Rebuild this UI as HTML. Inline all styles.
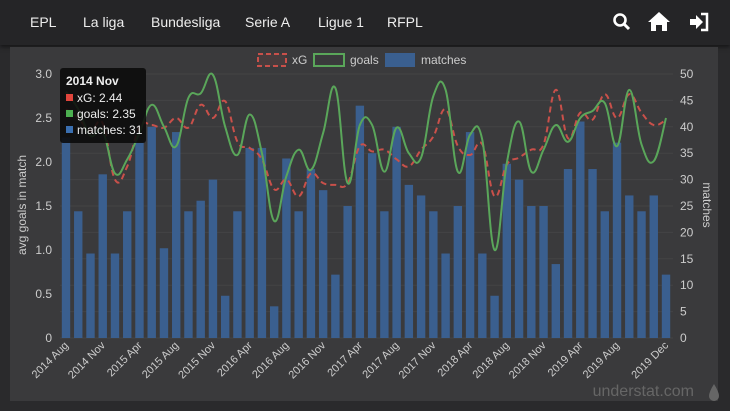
<!DOCTYPE html>
<html><head><meta charset="utf-8"><style>
html,body{margin:0;padding:0;width:730px;height:411px;overflow:hidden;background:#2a2a2c;font-family:"Liberation Sans",sans-serif}
#nav{position:absolute;left:0;top:0;width:730px;height:45px;background:#252527;box-shadow:0 2px 4px rgba(0,0,0,.5)}
.nl{position:absolute;top:14px;color:#eee;font-size:14px}
#panel{position:absolute;left:10px;top:47px;width:708px;height:354px;background:#3a3a3c}
svg{position:absolute;left:0;top:0}
</style></head><body>
<div id="nav">
<span class="nl" style="left:30px">EPL</span>
<span class="nl" style="left:83px">La liga</span>
<span class="nl" style="left:151px">Bundesliga</span>
<span class="nl" style="left:245px">Serie A</span>
<span class="nl" style="left:318px">Ligue 1</span>
<span class="nl" style="left:387px">RFPL</span>
<svg style="left:612px;top:12px" width="20" height="20"><circle cx="8" cy="8" r="5.5" stroke="#fff" stroke-width="2.6" fill="none"/><line x1="12" y1="12" x2="17" y2="17" stroke="#fff" stroke-width="3"/></svg>
<svg style="left:647px;top:10px" width="24" height="22"><path d="M12 2 L23 12 L20 12 L20 21 L15 21 L15 15 L9 15 L9 21 L4 21 L4 12 L1 12 Z" fill="#fff"/></svg>
<svg style="left:688px;top:12px" width="22" height="20"><path d="M2 7 H8 V3 L15 10 L8 17 V13 H2 Z" fill="#fff"/><path d="M13 2 H19 V18 H13" stroke="#fff" stroke-width="2.5" fill="none"/></svg>
</div>
<div id="panel"></div>
<svg id="chart" width="730" height="411"></svg>
<script>
const categories=["2014 Aug","2014 Sep","2014 Oct","2014 Nov","2014 Dec","2015 Jan","2015 Apr","2015 May","2015 Jul","2015 Aug","2015 Sep","2015 Oct","2015 Nov","2015 Dec","2016 Mar","2016 Apr","2016 May","2016 Aug","2016 Sep","2016 Oct","2016 Nov","2016 Dec","2017 Mar","2017 Apr","2017 May","2017 Jun","2017 Aug","2017 Sep","2017 Oct","2017 Nov","2017 Dec","2018 Mar","2018 Apr","2018 May","2018 Jul","2018 Aug","2018 Sep","2018 Oct","2018 Nov","2018 Dec","2019 Mar","2019 Apr","2019 May","2019 Jul","2019 Aug","2019 Aug ","2019 Sep","2019 Oct","2019 Nov","2019 Dec"];
const tickIdx=[0,3,6,9,12,15,18,21,24,27,30,33,36,39,42,45,49];
const tickLabels=["2014 Aug","2014 Nov","2015 Apr","2015 Aug","2015 Nov","2016 Apr","2016 Aug","2016 Nov","2017 Apr","2017 Aug","2017 Nov","2018 Apr","2018 Aug","2018 Nov","2019 Apr","2019 Aug","2019 Dec"];
const matches=[38,24,16,31,16,24,37,40,17,39,24,26,30,8,24,36,36,6,34,24,32,28,12,25,44,35,24,40,29,27,24,16,25,39,16,8,33,30,25,25,14,32,41,32,24,37,27,24,27,12];
const xG=[2.6,2.5,2.35,2.44,1.8,1.95,2.4,2.42,2.39,2.5,2.39,2.65,2.5,2.69,2.23,2.16,2.03,1.69,1.8,1.61,1.87,1.76,1.74,1.76,2.18,2.12,2.14,2.03,1.95,2.14,2.29,2.6,2.18,2.08,2.2,1.61,1.97,2.05,2.14,2.2,2.82,2.27,2.56,2.48,2.77,2.5,2.77,2.56,2.42,2.48];
const goals=[2.8,2.6,2.3,2.35,1.87,2.03,2.33,2.65,2.4,2.18,2.73,2.78,2.99,2.4,2.08,2.54,2.1,1.33,1.84,2.14,1.91,2.33,2.84,1.76,2.42,2.42,1.89,2.39,2.1,2.05,2.75,2.82,1.89,2.31,2.25,1.0,1.99,2.46,1.89,2.14,2.42,2.23,2.5,2.58,2.67,2.18,2.82,2.2,2.01,2.5];
const leftTicks=[0,0.5,1,1.5,2,2.5,3];
const rightTicks=[0,5,10,15,20,25,30,35,40,45,50];

const NS="http://www.w3.org/2000/svg";
const svg=document.getElementById('chart');
const X0=66,DX=12.245,Y0=338,YT=74;
const xs=i=>X0+i*DX;
const yL=v=>Y0-(v/3)*(Y0-YT);
const yR=v=>Y0-(v/50)*(Y0-YT);
function mk(t,a,p){const e=document.createElementNS(NS,t);for(const k in a)e.setAttribute(k,a[k]);(p||svg).appendChild(e);return e;}

rightTicks.forEach((v,i)=>{
 const g=mk('line',{x1:60,x2:673,y1:yR(v),y2:yR(v),stroke:'rgba(255,255,255,0.05)'});
 
 
 const t=mk('text',{x:680,y:yR(v)+4,fill:'#ccc','font-size':12});
 t.textContent=v;
 
 
});
leftTicks.forEach(v=>{
 const t=mk('text',{x:52,y:yL(v)+4,fill:'#ccc','font-size':12,'text-anchor':'end'});
 t.textContent=v===0?'0':v.toFixed(1);
 
 
});
matches.forEach((m,i)=>{
 const r=mk('rect',{x:xs(i)-4.2,y:yR(m),width:8.4,height:Y0-yR(m),fill:'#3a5f8f'});
 
 
});
function smooth(vals){
 const p=vals.map((v,i)=>[xs(i),yL(v)]);
 let d='M'+p[0][0]+','+p[0][1];
 for(let i=0;i<p.length-1;i++){
  const a=p[i-1]||p[i],b=p[i],c=p[i+1],e=p[i+2]||c,k=0.2;
  d+=' C'+(b[0]+(c[0]-a[0])*k)+','+(b[1]+(c[1]-a[1])*k)+' '+(c[0]-(e[0]-b[0])*k)+','+(c[1]-(e[1]-b[1])*k)+' '+c[0]+','+c[1];
 }
 return d;
}
const lx=mk('path',{d:smooth(xG),fill:'none',stroke:'#c9504a','stroke-width':2,'stroke-dasharray':'6,4'});


const lg=mk('path',{d:smooth(goals),fill:'none',stroke:'#5aa65a','stroke-width':2});



tickIdx.forEach((ix,j)=>{
 const x=xs(ix)+3,y=346;
 const t=mk('text',{x:x,y:y,fill:'#ccc','font-size':11,'text-anchor':'end',transform:'rotate(-45 '+x+' '+y+')'});
 t.textContent=tickLabels[j];
 
 
});
const ya=mk('text',{x:26,y:205,fill:'#ccc','font-size':12,'text-anchor':'middle',transform:'rotate(-90 26 205)'});
ya.textContent='avg goals in match';


const yb=mk('text',{x:703,y:205,fill:'#ccc','font-size':12,'text-anchor':'middle',transform:'rotate(90 703 205)'});
yb.textContent='matches';



// legend
const leg=mk('g',{});


mk('rect',{x:258,y:54,width:28,height:12,fill:'rgba(201,80,74,0.1)',stroke:'#c9504a','stroke-width':2,'stroke-dasharray':'5,3'},leg);
const l1=mk('text',{x:292,y:64,fill:'#ccc','font-size':12},leg);l1.textContent='xG';
mk('rect',{x:314,y:54,width:30,height:12,fill:'none',stroke:'#5aa65a','stroke-width':2},leg);
const l2=mk('text',{x:350,y:64,fill:'#ccc','font-size':12},leg);l2.textContent='goals';
mk('rect',{x:385,y:53,width:30,height:14,fill:'#3a5f8f'},leg);
const l3=mk('text',{x:421,y:64,fill:'#ccc','font-size':12},leg);l3.textContent='matches';

// tooltip
const tt=mk('g',{});


mk('rect',{x:60,y:68,width:86,height:75,rx:3,fill:'rgba(10,10,10,0.88)'},tt);
const t0=mk('text',{x:66,y:85,fill:'#eee','font-size':12,'font-weight':'bold'},tt);t0.textContent='2014 Nov';
[['#e0453c','xG: 2.44'],['#4caf50','goals: 2.35'],['#3a6fb0','matches: 31']].forEach((r,i)=>{
 mk('rect',{x:66,y:94+i*16,width:7,height:7,fill:r[0]},tt);
 const t=mk('text',{x:77,y:102+i*16,fill:'#eee','font-size':12},tt);t.textContent=r[1];
});
const wm=mk('text',{x:694,y:396,fill:'#666','font-size':16,'text-anchor':'end'});
wm.textContent='understat.com';


mk('path',{d:'M714 384 Q709 392 709 396 A5 5 0 0 0 719 396 Q719 392 714 384 Z',fill:'#666'});
</script>
</body></html>
